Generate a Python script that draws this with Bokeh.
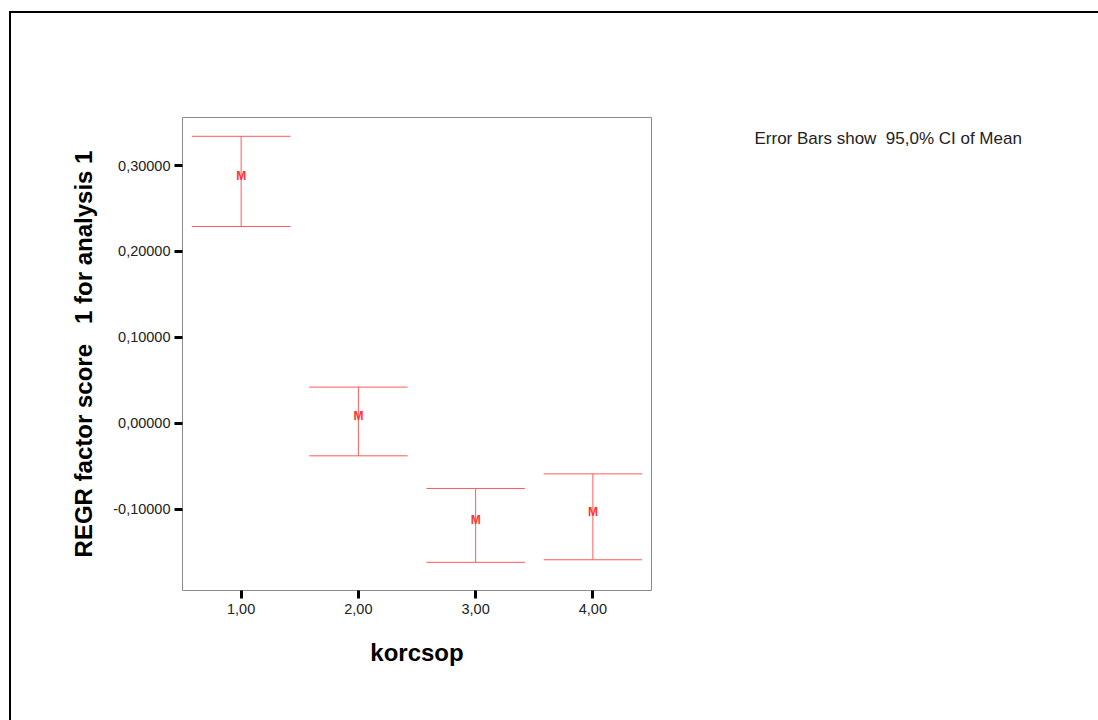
from bokeh.plotting import figure
from bokeh.layouts import row
from bokeh.models import FixedTicker, Label, InlineStyleSheet, ColumnDataSource
from bokeh.core.properties import value
from bokeh.embed import file_html
from bokeh.resources import INLINE

# ---- data ----
groups = [1, 2, 3, 4]
group_labels = ["1,00", "2,00", "3,00", "4,00"]
means = [0.2815, 0.0020, -0.1190, -0.1090]
ci_lower = [0.2290, -0.0380, -0.1620, -0.1590]
ci_upper = [0.3340, 0.0420, -0.0760, -0.0590]
y_ticks = [-0.1, 0.0, 0.1, 0.2, 0.3]
y_tick_labels = ["-0,10000", "0,00000", "0,10000", "0,20000", "0,30000"]
x_title = "korcsop"
y_title = "REGR factor score\u00a0\u00a0 1 for analysis 1"
note = "Error Bars show\u00a0 95,0% CI of Mean"

CAP = 0.42
RED_LINE = "#ff5a5a"
RED_TEXT = "#ff3333"
FONT = "Liberation Sans"
Y_RANGE = (-0.1948, 0.3559)
BORDERS = dict(min_border_top=117, min_border_bottom=130)

src = ColumnDataSource(dict(
    x=groups,
    mean=means,
    lo=ci_lower,
    hi=ci_upper,
    x0=[g - CAP for g in groups],
    x1=[g + CAP for g in groups],
    m=["M"] * len(groups),
))

p = figure(width=700, height=720, x_range=(0.5, 4.5), y_range=Y_RANGE,
           output_backend="svg", toolbar_location=None,
           min_border_left=182, min_border_right=49, **BORDERS)
p.background_fill_color = "white"
p.border_fill_color = "white"
p.outline_line_color = "#8a8a8a"
p.outline_line_width = 1
p.xgrid.visible = False
p.ygrid.visible = False

# error bars
p.segment(x0="x", y0="lo", x1="x", y1="hi", source=src, line_color=RED_LINE, line_width=1)
p.segment(x0="x0", y0="hi", x1="x1", y1="hi", source=src, line_color=RED_LINE, line_width=1)
p.segment(x0="x0", y0="lo", x1="x1", y1="lo", source=src, line_color=RED_LINE, line_width=1)
p.text(x="x", y="mean", text="m", source=src, text_color=RED_TEXT,
       text_font=value(FONT), text_font_style="bold", text_font_size="12px",
       text_align="center", text_baseline="middle", y_offset=-5)

# axes
p.xaxis.ticker = FixedTicker(ticks=groups)
p.xaxis.major_label_overrides = {g: l for g, l in zip(groups, group_labels)}
p.yaxis.ticker = FixedTicker(ticks=y_ticks)
p.yaxis.major_label_overrides = {t: l for t, l in zip(y_ticks, y_tick_labels)}
for ax in (p.xaxis[0], p.yaxis[0]):
    ax.axis_line_color = None
    ax.major_tick_line_color = "black"
    ax.major_tick_line_width = 3
    ax.major_tick_out = 8
    ax.major_tick_in = 0
    ax.minor_tick_line_color = None
    ax.major_label_text_font = FONT
    ax.major_label_text_font_size = "14.5px"
    ax.major_label_text_color = "#222222"
    ax.major_label_standoff = 4
    ax.axis_label_text_font = FONT
    ax.axis_label_text_font_style = "bold"
    ax.axis_label_text_font_size = "24px"
    ax.axis_label_text_color = "black"
p.xaxis.axis_label = x_title
p.yaxis.axis_label = y_title
p.xaxis.axis_label_standoff = 22
p.yaxis.axis_label_standoff = 13
p.xaxis.major_label_standoff = 5

# side panel holding the note (same vertical scale as the chart)
q = figure(width=398, height=720, x_range=(700, 1098), y_range=Y_RANGE,
           output_backend="svg", toolbar_location=None,
           min_border_left=0, min_border_right=0, **BORDERS)
q.axis.visible = False
q.xgrid.visible = False
q.ygrid.visible = False
q.outline_line_color = None
q.background_fill_color = "white"
q.border_fill_color = "white"
q.add_layout(Label(x=754, y=0.3314, text=note, text_font=FONT, text_font_size="17px",
                   text_color="#222222", text_baseline="middle", text_align="left"))

layout = row(p, q, spacing=0)
layout.stylesheets = [InlineStyleSheet(css=(
    ":host { position: relative; }"
    ":host::after { content: ''; position: absolute; left: 9px; top: 11px; "
    "width: 1089px; height: 709px; border-left: 2px solid #000; border-top: 2px solid #000; "
    "pointer-events: none; box-sizing: border-box; z-index: 10; }"
))]

open("out.html", "w").write(file_html(layout, INLINE))
